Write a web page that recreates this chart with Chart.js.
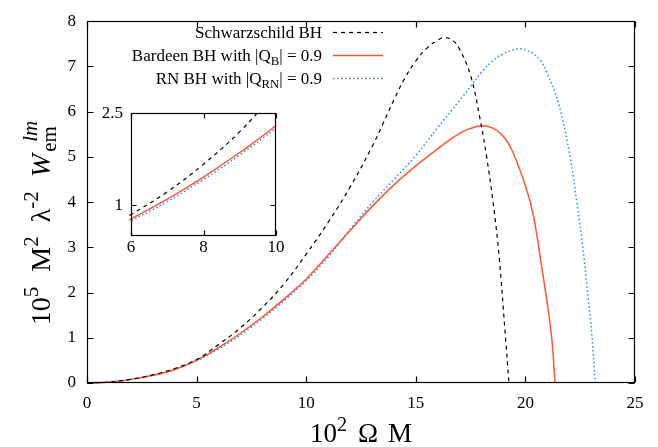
<!DOCTYPE html>
<html><head><meta charset="utf-8">
<script src="https://cdn.jsdelivr.net/npm/chart.js@4"></script>
<style>
html,body{margin:0;padding:0;background:#fff;}
#wrap{position:relative;width:658px;height:447px;overflow:hidden;}
#main{position:absolute;left:0;top:0;}
#inset{position:absolute;left:90px;top:95px;}
</style></head><body>
<div id="wrap"><canvas id="main" width="658" height="447"></canvas><canvas id="inset" width="200" height="170"></canvas></div>
<script>
// ---- data ----
const schwX = [0,1,2,3,4,5,6,7,8,9,10,11,12,13,13.5,14,14.5,15,15.5,16,16.3,16.7,17,17.5,17.92,18.23,18.53,18.8,19.07,19.25];
const schwY = [0,0.02,0.08,0.18,0.32,0.52,0.85,1.22,1.67,2.2,2.85,3.55,4.33,5.22,5.73,6.26,6.74,7.12,7.4,7.58,7.64,7.57,7.38,6.8,5.87,5.0,3.98,2.8,1.15,0];
const bardX = [0,1,2,3,4,5,6,7,8,9,10,11,12,13,14,15,16,16.5,17,17.5,18,18.5,19,19.45,20.06,20.37,20.67,20.97,21.2,21.35];
const bardY = [0,0.02,0.08,0.17,0.3,0.5,0.78,1.1,1.46,1.86,2.3,2.83,3.37,3.9,4.38,4.8,5.18,5.36,5.52,5.63,5.69,5.64,5.45,5.08,4.27,3.69,2.8,1.85,1.0,0];
const rnX = [0,1,2,3,4,5,6,7,8,9,10,11,12,13,14,15,16,17,17.6,18,18.5,19,19.4,19.75,20.3,20.7,21,21.53,22.04,22.35,22.68,22.8,23.03,23.18];
const rnY = [0,0.02,0.08,0.17,0.3,0.49,0.75,1.06,1.42,1.82,2.26,2.78,3.4,3.98,4.5,5.03,5.65,6.25,6.62,6.87,7.12,7.28,7.36,7.39,7.3,7.12,6.85,6.15,5.0,3.98,2.75,2.17,1.08,0];
const seriesLabels = ['Schwarzschild BH', 'Bardeen BH with |Q_B| = 0.9', 'RN BH with |Q_RN| = 0.9'];
const xTicksMain = [0,5,10,15,20,25];
const yTicksMain = [0,1,2,3,4,5,6,7,8];
const xTicksInset = [6,8,10];
const yTicksInset = [1,2.5];

const FONT = 'Liberation Serif';
const styles = [
  {color:'#000000', width:1.2, dash:[4,4]},
  {color:'#ff5533', width:1.5, dash:[]},
  {color:'#1e90ff', width:1.5, dash:[1.5,2.5]}
];
function pts(xs, ys){ return xs.map((x,i)=>({x:x, y:ys[i]})); }
function makeDatasets(){
  const src = [[schwX,schwY],[bardX,bardY],[rnX,rnY]];
  return src.map((s,i)=>({
    label: seriesLabels[i], data: pts(s[0], s[1]),
    borderColor: styles[i].color, borderWidth: styles[i].width, borderDash: styles[i].dash,
    pointRadius:0, fill:false, tension:0.4, clip:2
  }));
}

// ---- rich text helpers (super/subscripts) ----
const SUBSCALE = 0.75;
function fnt(size, it){ return (it?'italic ':'') + size + 'px "' + FONT + '"'; }
function segWidth(ctx, s, size){
  if (s.gap) return s.gap;
  if (s.stack){
    ctx.font = fnt(size*SUBSCALE, s.stack.supIt); const a = ctx.measureText(s.stack.sup).width + (s.stack.off||0);
    ctx.font = fnt(size*SUBSCALE, false); const b = ctx.measureText(s.stack.sub).width;
    return Math.max(a,b);
  }
  const sz = (s.sup||s.sub) ? size*SUBSCALE : size;
  ctx.font = fnt(sz, s.it); return ctx.measureText(s.t).width;
}
function richWidth(ctx, segs, size){ return segs.reduce((w,s)=>w+segWidth(ctx,s,size),0); }
function drawRich(ctx, segs, x, y, size){
  ctx.textAlign='left'; ctx.textBaseline='alphabetic'; ctx.fillStyle='#000';
  for (const s of segs){
    const w = segWidth(ctx, s, size);
    if (s.gap){ x += w; continue; }
    if (s.stack){
      ctx.font = fnt(size*SUBSCALE, s.stack.supIt); ctx.fillText(s.stack.sup, x + (s.stack.off||0), y - size*0.45);
      ctx.font = fnt(size*SUBSCALE, false); ctx.fillText(s.stack.sub, x, y + size*0.22);
    } else {
      const sz = (s.sup||s.sub) ? size*SUBSCALE : size;
      ctx.font = fnt(sz, s.it);
      const dy = s.sup ? -size*0.42 : (s.sub ? size*0.22 : 0);
      ctx.fillText(s.t, x, y+dy);
    }
    x += w;
  }
}
const yTitle = [{t:'10'},{t:'5',sup:true},{gap:15},{t:'M'},{t:'2',sup:true},{gap:14},{t:'\u03bb'},{t:'-2',sup:true},{gap:14},{t:'W',it:true},{gap:2},{stack:{sub:'em', sup:'lm', supIt:true, off:10}}];
const xTitle = [{t:'10'},{t:'2',sup:true},{gap:11},{t:'\u03a9'},{gap:10},{t:'M'}];
const legendSegs = [
  [{t:'Schwarzschild BH'}],
  [{t:'Bardeen BH with |Q'},{t:'B',sub:true},{t:'| = 0.9'}],
  [{t:'RN BH with |Q'},{t:'RN',sub:true},{t:'| = 0.9'}]
];

// ---- frame with inward ticks ----
function framePlugin(tickLen, xt, yt, fillBg){
  return {
    id:'frame',
    beforeDatasetsDraw(chart){
      if (!fillBg) return;
      const {ctx, chartArea:a} = chart;
      ctx.save(); ctx.fillStyle='#fff'; ctx.fillRect(a.left, a.top, a.right-a.left, a.bottom-a.top); ctx.restore();
    },
    afterDatasetsDraw(chart){
      const {ctx, chartArea:a, scales} = chart;
      const L = Math.round(a.left)+0.5, R = Math.round(a.right)-0.5, T = Math.round(a.top)+0.5, B = Math.round(a.bottom)-0.5;
      ctx.save(); ctx.strokeStyle='#000'; ctx.lineWidth=1.2; ctx.setLineDash([]);
      ctx.strokeRect(L, T, R-L, B-T);
      ctx.beginPath();
      for (const v of xt){ const p = Math.round(scales.x.getPixelForValue(v))+0.5; ctx.moveTo(p,B); ctx.lineTo(p,B-tickLen); ctx.moveTo(p,T); ctx.lineTo(p,T+tickLen); }
      for (const v of yt){ const p = Math.round(scales.y.getPixelForValue(v))+0.5; ctx.moveTo(L,p); ctx.lineTo(L+tickLen,p); ctx.moveTo(R,p); ctx.lineTo(R-tickLen,p); }
      ctx.stroke(); ctx.restore();
    }
  };
}
const mainText = {
  id:'mainText',
  afterDraw(chart){
    const ctx = chart.ctx; const a = chart.chartArea;
    ctx.save();
    // x title
    const xs = 27; const xw = richWidth(ctx, xTitle, xs);
    drawRich(ctx, xTitle, (a.left+a.right)/2 - xw/2, 442, xs);
    // y title rotated
    const ys = 28; const yw = richWidth(ctx, yTitle, ys);
    ctx.save(); ctx.translate(50, 223); ctx.rotate(-Math.PI/2);
    drawRich(ctx, yTitle, -yw/2, 0, ys); ctx.restore();
    // legend
    const ls = 17; const rows = [32, 55, 78];
    legendSegs.forEach((segs,i)=>{
      const w = richWidth(ctx, segs, ls);
      drawRich(ctx, segs, 322 - w, rows[i]+6, ls);
      ctx.beginPath(); ctx.strokeStyle = styles[i].color; ctx.lineWidth = styles[i].width; ctx.setLineDash(styles[i].dash);
      ctx.moveTo(333, rows[i]+0.5); ctx.lineTo(383, rows[i]+0.5); ctx.stroke();
    });
    ctx.restore();
  }
};

function tickFont(){ return {family: FONT, size:17}; }

new Chart(document.getElementById('main'), {
  type:'line',
  data:{datasets: makeDatasets()},
  options:{
    responsive:false, animation:false, devicePixelRatio:1,
    layout:{padding:{left:0,right:23,top:15,bottom:0}},
    plugins:{legend:{display:false}, tooltip:{enabled:false}},
    scales:{
      x:{type:'linear', min:0, max:25,
         afterBuildTicks(s){ s.ticks = xTicksMain.map(v=>({value:v})); },
         ticks:{font:tickFont(), color:'#000', padding:10, maxRotation:0, autoSkip:false},
         grid:{display:false, drawTicks:false}, border:{display:false},
         afterFit(s){ s.height = 64; }},
      y:{type:'linear', min:0, max:8,
         afterBuildTicks(s){ s.ticks = yTicksMain.map(v=>({value:v})); },
         ticks:{font:tickFont(), color:'#000', padding:11, autoSkip:false},
         grid:{display:false, drawTicks:false}, border:{display:false},
         afterFit(s){ s.width = 87; }}
    }
  },
  plugins:[framePlugin(6, xTicksMain, yTicksMain, false), mainText]
});

new Chart(document.getElementById('inset'), {
  type:'line',
  data:{datasets: makeDatasets()},
  options:{
    responsive:false, animation:false, devicePixelRatio:1,
    layout:{padding:{left:0,right:14,top:13,bottom:0}},
    plugins:{legend:{display:false}, tooltip:{enabled:false}},
    scales:{
      x:{type:'linear', min:6, max:10,
         afterBuildTicks(s){ s.ticks = xTicksInset.map(v=>({value:v})); },
         ticks:{font:tickFont(), color:'#000', padding:1, maxRotation:0, autoSkip:false},
         grid:{display:false, drawTicks:false}, border:{display:false},
         afterFit(s){ s.height = 29; }},
      y:{type:'linear', min:0.5, max:2.5,
         afterBuildTicks(s){ s.ticks = yTicksInset.map(v=>({value:v})); },
         ticks:{font:tickFont(), color:'#000', padding:8, autoSkip:false},
         grid:{display:false, drawTicks:false}, border:{display:false},
         afterFit(s){ s.width = 41; }}
    }
  },
  plugins:[framePlugin(5, xTicksInset, yTicksInset, true)]
});
</script>
</body></html>
